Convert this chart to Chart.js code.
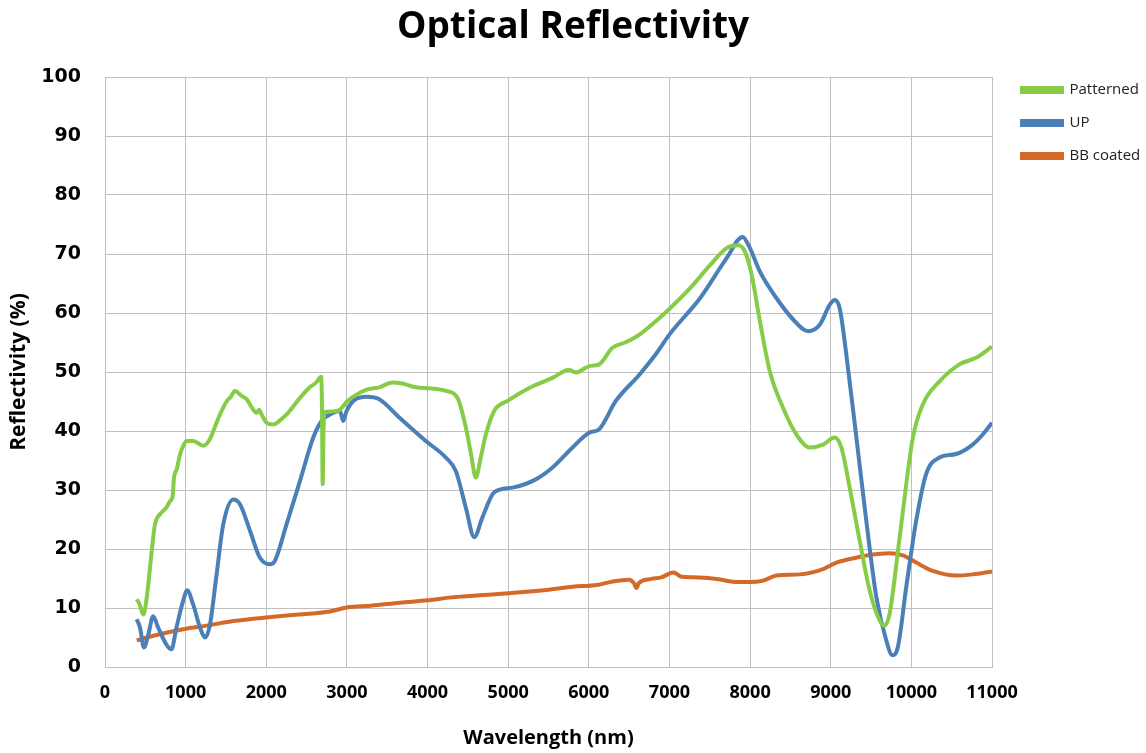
<!DOCTYPE html>
<html>
<head>
<meta charset="utf-8">
<script src="https://cdn.jsdelivr.net/npm/chart.js@4/dist/chart.umd.min.js"></script>
<style>
html,body{margin:0;padding:0;background:#fff;}
#wrap{width:1146px;height:753px;position:relative;}
</style>
</head>
<body>
<div id="wrap"><canvas id="c" width="1146" height="753"></canvas></div>
<script>
const seriesNames = ["Patterned", "UP", "BB coated"];
const xTickLabels = ["0","1000","2000","3000","4000","5000","6000","7000","8000","9000","10000","11000"];
const yTickLabels = ["0","10","20","30","40","50","60","70","80","90","100"];

const patternedX = [393,430,475,520,558,590,620,682,760,806,839,855,890,930,970,1012,1095,1219,1300,1343,1426,1508,1560,1612,1690,1756,1820,1880,1910,1942,2004,2087,2170,2252,2417,2530,2624,2660,2680,2690,2700,2710,2720,2800,2900,2960,3000,3100,3244,3401,3566,3700,3855,4050,4227,4372,4475,4540,4599,4660,4723,4826,4992,5260,5550,5756,5839,6004,6128,6293,6450,6624,6830,7008,7256,7503,7709,7854,7936,8019,8122,8245,8410,8575,8740,8905,9049,9132,9235,9359,9482,9606,9668,9730,9854,10019,10142,10349,10596,10802,11000];
const patternedY = [11.5,10.6,8.9,12,16.8,21,24.2,25.9,27,28.1,29,32,33.5,36,37.5,38.3,38.3,37.5,38.6,40,42.8,45,45.8,46.8,46,45.4,44,43.1,43.6,42.8,41.4,41.1,41.8,42.8,45.6,47.3,48.3,49,49.2,45,31,40,43.2,43.3,43.5,44.3,45,46,47,47.4,48.2,48,47.4,47.2,46.8,45.6,40.6,36,32.1,35.5,39.4,43.4,45.1,47.3,49,50.4,49.9,51,51.3,54.1,55,56.3,58.6,60.8,64.2,68.1,71,71.5,70.4,66.5,58.6,50.1,43.9,39.4,37.2,37.7,38.9,37.2,30.4,21.4,13,7.9,7,9,21.9,38.9,44.5,48.4,51.3,52.4,54.3];

const upX = [393,434,483,537,597,659,762,824,886,969,1019,1093,1178,1240,1302,1384,1467,1591,1674,1798,1922,2045,2107,2252,2417,2583,2686,2831,2913,2955,2996,3079,3244,3401,3649,3979,4227,4351,4475,4579,4682,4826,5054,5343,5550,5798,6004,6128,6335,6624,6830,7008,7379,7709,7907,7998,8122,8328,8534,8720,8864,8988,9049,9111,9194,9318,9441,9565,9689,9763,9833,9936,10060,10183,10349,10555,10761,10885,11000];
const upY = [8.1,6.7,3.3,5.5,8.6,6.7,3.8,3.0,6.7,11.2,13,10.6,6.7,5,7.2,15.7,24.2,28.4,27.6,23.1,18.5,17.4,18,24.2,31.5,38.9,41.7,43.1,43.4,41.7,43.4,45.1,45.8,45.4,42.3,38.3,35.5,33.2,27,22,25.4,29.6,30.4,31.8,33.8,37.2,39.7,40.3,45.1,49.5,53,56.5,62.5,69.3,72.9,71,67,62.5,58.9,56.9,58,61.4,62.2,60.8,52.9,38.9,24.8,11.9,4.5,2,3.4,13.5,24.8,32.7,35.5,36.1,37.7,39.4,41.4];

const bbX = [393,600,969,1300,1591,2087,2400,2789,2996,3300,3657,4000,4300,4700,5000,5500,5800,6100,6300,6500,6560,6590,6620,6761,6900,7049,7150,7297,7586,7854,7998,8150,8328,8616,8905,9070,9235,9482,9730,9895,10060,10266,10555,10761,11000];
const bbY = [4.5,5.3,6.4,7.1,7.8,8.5,8.9,9.4,10.1,10.4,10.9,11.3,11.8,12.2,12.5,13.1,13.6,13.9,14.5,14.8,14.2,13.4,14.2,14.9,15.2,16,15.3,15.2,14.9,14.4,14.4,14.6,15.5,15.7,16.6,17.7,18.3,19,19.3,18.9,17.7,16.3,15.5,15.7,16.2];

const colors = ["#86cc47", "#4a7fb8", "#d4692a"];
const toPts = (xs, ys) => xs.map((x, i) => ({x: x, y: ys[i]}));

const legendTweak = {
  id: 'legendTweak',
  beforeLayout(chart) {
    const lg = chart.legend;
    if (lg && !lg._patched) {
      const f = lg.fit;
      lg.fit = function() { f.call(this); this.width = 154; };
      lg._patched = true;
    }
  },
  afterLayout(chart) {
    const lg = chart.legend;
    if (lg) {
      const pad = lg.options.labels.padding;
      lg.left = 1022 - pad;
      lg.right = lg.left + 154;
      lg.top = 90 - 7.5 - pad;
    }
  }
};

const ds = (i, xs, ys) => ({
  label: seriesNames[i],
  data: toPts(xs, ys),
  borderColor: colors[i],
  backgroundColor: colors[i],
  borderWidth: 4,
  pointRadius: 0,
  cubicInterpolationMode: 'monotone',
  fill: false
});

new Chart(document.getElementById('c'), {
  type: 'line',
  data: {
    datasets: [ds(0, patternedX, patternedY), ds(1, upX, upY), ds(2, bbX, bbY)]
  },
  options: {
    responsive: false,
    animation: false,
    layout: {padding: 0},
    plugins: {
      title: {
        display: true,
        text: 'Optical Reflectivity',
        color: '#000',
        font: {family: 'Open Sans', size: 37, weight: 'bold', lineHeight: 1.2},
        padding: {top: 5, bottom: 27.6}
      },
      legend: {
        position: 'right',
        align: 'start',
        labels: {
          color: '#222',
          font: {family: 'Open Sans', size: 15},
          boxWidth: 40,
          boxHeight: 4,
          padding: 18
        }
      },
      tooltip: {enabled: false}
    },
    scales: {
      x: {
        type: 'linear',
        min: 0, max: 11000,
        afterFit: s => { s.height = 86; },
        ticks: {
          stepSize: 1000,
          padding: 15,
          color: '#000',
          maxRotation: 0,
          font: {family: 'Open Sans', size: 18, weight: 'bold'},
          callback: (v) => xTickLabels[Math.round(v / 1000)]
        },
        grid: {color: '#bfbfbf', lineWidth: 1, drawTicks: false},
        border: {color: '#bfbfbf'},
        title: {
          display: true,
          text: 'Wavelength (nm)',
          color: '#000',
          font: {family: 'Open Sans', size: 20, weight: 'bold'},
          padding: {top: 0, bottom: 3}
        }
      },
      y: {
        min: 0, max: 100,
        afterFit: s => { s.width = 105; },
        ticks: {
          stepSize: 10,
          padding: 24,
          color: '#000',
          font: {family: 'DejaVu Sans', size: 19, weight: 'bold'},
          callback: (v) => yTickLabels[Math.round(v / 10)]
        },
        grid: {color: '#bfbfbf', lineWidth: 1, drawTicks: false},
        border: {color: '#bfbfbf'},
        title: {
          display: true,
          text: 'Reflectivity (%)',
          color: '#000',
          font: {family: 'Open Sans', size: 21, weight: 'bold'},
          padding: {top: 6, bottom: 0}
        }
      }
    }
  },
  plugins: [legendTweak]
});
</script>
</body>
</html>
